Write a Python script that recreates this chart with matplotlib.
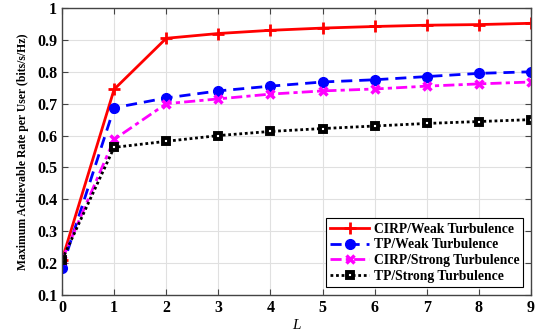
import matplotlib
matplotlib.use('Agg')
from matplotlib import pyplot as plt

L = [0, 1, 2, 3, 4, 5, 6, 7, 8, 9]
cirp_weak = [0.21, 0.745, 0.905, 0.92, 0.93, 0.937, 0.942, 0.946, 0.948, 0.952]
tp_weak = [0.185, 0.687, 0.718, 0.74, 0.755, 0.768, 0.775, 0.785, 0.795, 0.80]
cirp_strong = [0.21, 0.588, 0.70, 0.715, 0.73, 0.74, 0.746, 0.755, 0.762, 0.768]
tp_strong = [0.21, 0.563, 0.582, 0.60, 0.613, 0.622, 0.63, 0.638, 0.644, 0.65]
yticks = [0.1, 0.2, 0.3, 0.4, 0.5, 0.6, 0.7, 0.8, 0.9, 1]
ytick_labels = ['0.1', '0.2', '0.3', '0.4', '0.5', '0.6', '0.7', '0.8', '0.9', '1']

plt.rcParams['font.family'] = ['Liberation Serif', 'DejaVu Serif']
plt.rcParams['font.weight'] = 'bold'

fig = plt.figure(figsize=(5.37, 3.33), dpi=100)
ax = fig.add_axes([0.1155, 0.114, 0.8733, 0.862])

ax.plot(L, cirp_weak, color='red', ls='-', lw=2, marker='+', ms=9, mew=2,
        label='CIRP/Weak Turbulence')
ax.plot(L, tp_weak, color='blue', ls=(0, (4, 2.5)), lw=2, marker='o', ms=7,
        label='TP/Weak Turbulence')
ax.plot(L, cirp_strong, color='magenta', ls=(0, (4, 1.5, 1.5, 1.5)), lw=2,
        marker='x', ms=6, mew=2.5, label='CIRP/Strong Turbulence')
ax.plot(L, tp_strong, color='black', ls=(0, (1, 1)), lw=2, marker='s', ms=5,
        mfc='white', mec='black', mew=2.8, label='TP/Strong Turbulence')

ax.set_xlim(0, 9)
ax.set_ylim(0.1, 1)
ax.set_xticks(L)
ax.set_yticks(yticks)
ax.set_yticklabels(ytick_labels)
ax.tick_params(direction='in', labelsize=11.5, length=4, color='#444444',
               top=True, right=True)
for lab in ax.get_xticklabels() + ax.get_yticklabels():
    lab.set_fontweight('bold')
ax.grid(True, color='#e0e0e0', lw=0.8)
ax.set_axisbelow(True)
for s in ax.spines.values():
    s.set_color('#444444')
    s.set_linewidth(1.0)

ax.set_xlabel('L', fontsize=11, fontstyle='italic', fontweight='normal',
              labelpad=2)
ax.set_ylabel('Maximum Achievable Rate per User (bits/s/Hz)', fontsize=8.5,
              fontweight='bold', labelpad=6)

leg = ax.legend(loc='lower right', fontsize=9.8, fancybox=False, framealpha=1,
                edgecolor='black', handlelength=2.9, borderpad=0.3,
                labelspacing=0.2, handletextpad=0.3,
                bbox_to_anchor=(0.998, 0.005))
leg.get_frame().set_linewidth(0.8)
for t in leg.get_texts():
    t.set_fontweight('bold')

fig.savefig('out.png', dpi=100)
